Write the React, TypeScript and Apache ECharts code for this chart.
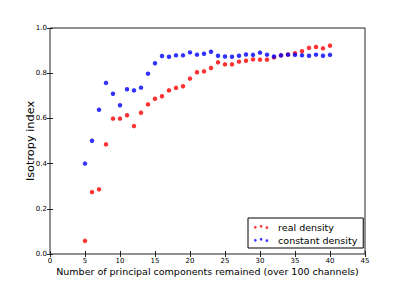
import React, { useEffect, useRef } from "react";
import * as echarts from "echarts";

const components = [5,6,7,8,9,10,11,12,13,14,15,16,17,18,19,20,21,22,23,24,25,26,27,28,29,30,31,32,33,34,35,36,37,38,39,40];
const realDensity = [0.058,0.274,0.286,0.485,0.599,0.599,0.614,0.566,0.625,0.662,0.687,0.698,0.724,0.735,0.742,0.776,0.804,0.808,0.823,0.848,0.839,0.839,0.851,0.855,0.861,0.860,0.860,0.870,0.879,0.883,0.888,0.897,0.912,0.916,0.910,0.922];
const constantDensity = [0.400,0.501,0.638,0.757,0.709,0.658,0.729,0.724,0.736,0.798,0.844,0.876,0.873,0.879,0.879,0.892,0.882,0.886,0.895,0.877,0.874,0.873,0.877,0.883,0.881,0.891,0.882,0.874,0.879,0.882,0.881,0.879,0.877,0.882,0.877,0.881];
const xTicks = [0,5,10,15,20,25,30,35,40,45];
const yTicks = [0.0,0.2,0.4,0.6,0.8,1.0];
const seriesNames = ["real density", "constant density"];
const xTitle = "Number of principal components remained (over 100 channels)";
const yTitle = "Isotropy index";

const legendIcon =
  "path://M0,2.6a1.5,1.5 0 1,0 3,0a1.5,1.5 0 1,0 -3,0Z" +
  "M6.5,1.5a1.5,1.5 0 1,0 3,0a1.5,1.5 0 1,0 -3,0Z" +
  "M13,3a1.5,1.5 0 1,0 3,0a1.5,1.5 0 1,0 -3,0Z";

export default function App() {
  const ref = useRef<HTMLDivElement>(null);
  useEffect(() => {
    const chart = echarts.init(ref.current!, undefined, { renderer: "svg" });
    const font = "DejaVu Sans";
    const axisColor = "#222";
    const tickLabel = { fontFamily: font, fontSize: 7, color: "#000" };
    const hiddenAxisCommon = {
      type: "value" as const,
      min: 0,
      axisLine: { show: false },
      axisLabel: { show: false },
      splitLine: { show: false },
      axisTick: { show: true, inside: true, length: 3, lineStyle: { color: axisColor } },
    };
    chart.setOption({
      animation: false,
      backgroundColor: "#fff",
      grid: {
        left: 50, top: 28, width: 315, height: 226,
        show: true, borderColor: axisColor, borderWidth: 1, backgroundColor: "transparent",
      },
      legend: {
        orient: "vertical",
        left: 248,
        top: 218,
        width: 114,
        padding: [4, 6, 3, 6],
        itemGap: 3,
        itemWidth: 18,
        itemHeight: 4,
        borderColor: "#000",
        borderWidth: 1,
        borderRadius: 0,
        backgroundColor: "#fff",
        icon: legendIcon,
        textStyle: { fontFamily: font, fontSize: 9.5, color: "#000", padding: [0, 0, 0, 3] },
        data: seriesNames,
      },
      xAxis: [
        {
          type: "value", min: xTicks[0], max: xTicks[xTicks.length - 1], interval: 5,
          axisLine: { show: false },
          axisTick: { show: true, inside: true, length: 3, lineStyle: { color: axisColor } },
          splitLine: { show: false },
          axisLabel: { ...tickLabel, margin: 3 },
          name: xTitle, nameLocation: "middle", nameGap: 12, nameMoveOverlap: false,
          nameTextStyle: { fontFamily: font, fontSize: 9.5, color: "#000" },
        },
        { ...hiddenAxisCommon, position: "top", max: 45, interval: 5 },
      ],
      yAxis: [
        {
          type: "value", min: yTicks[0], max: yTicks[yTicks.length - 1], interval: 0.2,
          axisLine: { show: false },
          axisTick: { show: true, inside: true, length: 3, lineStyle: { color: axisColor } },
          splitLine: { show: false },
          axisLabel: { ...tickLabel, margin: 3, formatter: (v: number) => v.toFixed(1) },
          name: yTitle, nameLocation: "middle", nameGap: 14, nameMoveOverlap: false,
          nameTextStyle: { fontFamily: font, fontSize: 11.3, color: "#000" },
        },
        { ...hiddenAxisCommon, position: "right", max: 1, interval: 0.2 },
      ],
      series: [
        {
          name: seriesNames[0], type: "scatter", symbol: "circle", symbolSize: 4.5,
          itemStyle: { color: "#ff0000" },
          data: components.map((c, i) => [c, realDensity[i]]),
        },
        {
          name: seriesNames[1], type: "scatter", symbol: "circle", symbolSize: 4.5,
          itemStyle: { color: "#0000ff" },
          data: components.map((c, i) => [c, constantDensity[i]]),
        },
      ],
    });
    return () => chart.dispose();
  }, []);
  return <div ref={ref} style={{ width: 407, height: 283, position: "absolute", left: 0, top: 0 }} />;
}
